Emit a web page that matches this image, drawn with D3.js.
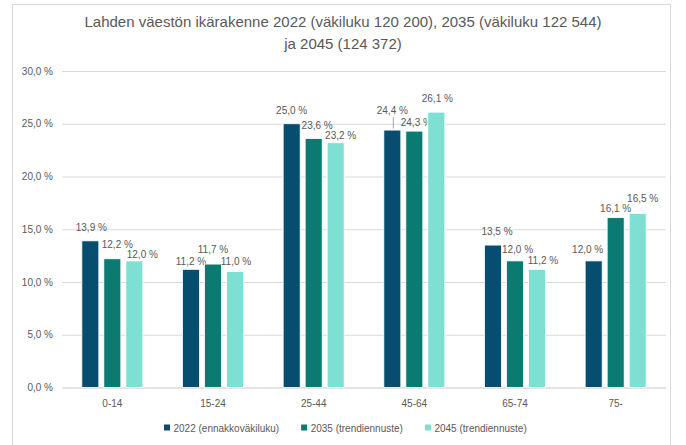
<!DOCTYPE html>
<html>
<head>
<meta charset="utf-8">
<script src="https://cdn.jsdelivr.net/npm/d3@7"></script>
<style>
  body { margin: 0; background: #fff; }
  svg text { font-family: "Liberation Sans", Arial, sans-serif; fill: #595959; }
</style>
</head>
<body>
<div id="chart"></div>
<script>
const W = 686, H = 445;

const categories = ["0-14", "15-24", "25-44", "45-64", "65-74", "75-"];
const seriesNames = ["2022 (ennakkoväkiluku)", "2035 (trendiennuste)", "2045 (trendiennuste)"];
const values2022 = [13.9, 11.2, 25.0, 24.4, 13.5, 12.0];
const values2035 = [12.2, 11.7, 23.6, 24.3, 12.0, 16.1];
const values2045 = [12.0, 11.0, 23.2, 26.1, 11.2, 16.5];
const yTicks = [0, 5, 10, 15, 20, 25, 30];
const titleLines = ["Lahden väestön ikärakenne 2022 (väkiluku 120 200), 2035 (väkiluku 122 544)", "ja 2045 (124 372)"];

const colors = ["#064d6f", "#0b7a70", "#7ee0d3"];

// label nudges (dx, dy from bar top), hand-placed like in the original
const labelNudge = [
  [[1, -10], [0, -4], [0, -9.5], [0, -16], [4, -10], [-6, -7.5]],
  [[5, -11], [0, -11], [3.5, -9.5], [2, -5.5], [2.5, -7.5], [0, -6]],
  [[8, -3], [1, -6], [5, -3.5], [1, -10], [6, -5], [5, -11.5]]
];

const seriesValues = [values2022, values2035, values2045];

const svg = d3.select("#chart").append("svg")
  .attr("width", W)
  .attr("height", H);

svg.append("rect").attr("width", W).attr("height", H).attr("fill", "#fff");

// chart border
svg.append("rect")
  .attr("x", 12.5).attr("y", 4.5)
  .attr("width", 658).attr("height", 445)
  .attr("fill", "none")
  .attr("stroke", "#d9d9d9");

const x0 = d3.scaleBand()
  .domain(categories)
  .range([62, 666])
  .paddingInner(0.394)
  .paddingOuter(0.197);

const x1 = d3.scaleBand()
  .domain(d3.range(seriesNames.length))
  .range([0, x0.bandwidth()])
  .paddingInner(0.227);

const y = d3.scaleLinear()
  .domain([0, 30])
  .range([387.5, 71]);

const locale = d3.formatLocale({ decimal: ",", thousands: " ", grouping: [3], currency: ["", "€"] });
const fmt = v => locale.format(".1f")(v) + " %";

// title
svg.append("g").selectAll("text")
  .data(titleLines)
  .enter().append("text")
  .attr("x", 343)
  .attr("y", (d, i) => 27 + i * 22)
  .attr("text-anchor", "middle")
  .style("font-size", "15px")
  .text(d => d);

// y axis / grid
const yAxis = d3.axisLeft(y)
  .tickValues(yTicks)
  .tickSize(-(666 - 62))
  .tickPadding(9)
  .tickFormat(fmt);

const yg = svg.append("g")
  .attr("transform", "translate(62,0)")
  .call(yAxis);
yg.select(".domain").remove();
yg.selectAll(".tick line").attr("stroke", "#d9d9d9");
yg.selectAll(".tick text").style("font-size", "10px").attr("fill", "#595959");

// x axis
const xg = svg.append("g")
  .attr("transform", "translate(0,387.5)")
  .call(d3.axisBottom(x0).tickSize(0).tickPadding(12));
xg.select(".domain").attr("stroke", "#d9d9d9");
xg.selectAll(".tick text").style("font-size", "10px").attr("fill", "#595959");

// bars
const groups = svg.append("g").selectAll("g")
  .data(seriesValues)
  .enter().append("g")
  .attr("fill", (d, i) => colors[i]);

groups.each(function(vals, s) {
  const g = d3.select(this);
  g.selectAll("rect")
    .data(vals)
    .enter().append("rect")
    .attr("x", (d, i) => x0(categories[i]) + x1(s))
    .attr("y", d => y(d))
    .attr("width", x1.bandwidth())
    .attr("height", d => y(0) - y(d))
    .attr("stroke", "#fff")
    .attr("stroke-width", 0.8);

  g.selectAll("text")
    .data(vals)
    .enter().append("text")
    .attr("x", (d, i) => x0(categories[i]) + x1(s) + x1.bandwidth() / 2 + labelNudge[s][i][0])
    .attr("y", (d, i) => y(d) + labelNudge[s][i][1])
    .attr("text-anchor", "middle")
    .style("font-size", "10px")
    .text(d => fmt(d));
});

// leader line for the lifted 24,4 % label
const lx = x0("45-64") + x1(0) + x1.bandwidth() / 2 + 1;
svg.append("line")
  .attr("x1", lx).attr("x2", lx)
  .attr("y1", y(values2022[3]) + labelNudge[0][3][1] + 3)
  .attr("y2", y(values2022[3]) - 1.5)
  .attr("stroke", "#8c8c8c")
  .attr("stroke-width", 0.8);

// legend
const legend = svg.append("g").attr("transform", "translate(164,428)");
let lxPos = 0;
seriesNames.forEach((name, i) => {
  const item = legend.append("g").attr("transform", `translate(${lxPos},0)`);
  item.append("rect")
    .attr("x", 0).attr("y", -3.5)
    .attr("width", 6).attr("height", 6)
    .attr("fill", colors[i]);
  const t = item.append("text")
    .attr("x", 9.5).attr("y", 3.5)
    .style("font-size", "10px")
    .text(name);
  lxPos += 9.5 + t.node().getComputedTextLength() + 22;
});
</script>
</body>
</html>
